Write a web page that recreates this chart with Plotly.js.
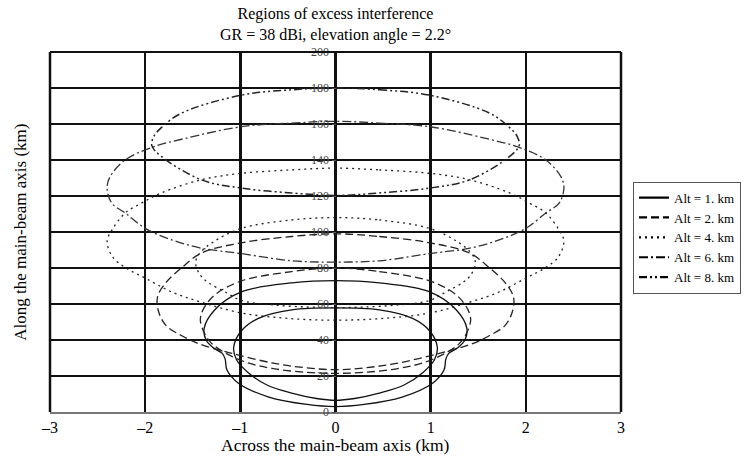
<!DOCTYPE html>
<html>
<head>
<meta charset="utf-8">
<script src="https://cdn.plot.ly/plotly-3.0.1.min.js"></script>
<style>html,body{margin:0;padding:0;background:#fff;}#chart{width:756px;height:461px;}</style>
</head>
<body>
<div id="chart"></div>
<script>
// Legend labels
const altLabels = ['Alt = 1. km', 'Alt = 2. km', 'Alt = 4. km', 'Alt = 6. km', 'Alt = 8. km'];
const xTicks = [-3, -2, -1, 0, 1, 2, 3];
const yTicks = [0, 20, 40, 60, 80, 100, 120, 140, 160, 180, 200];

// Contours (km across, km along)
const alt1OuterX = [0,0.46,0.99,1.27,1.38,1.36,1.28,1.19,1.16,1.14,1.02,0.70,0.30,0,-0.30,-0.70,-1.02,-1.14,-1.16,-1.19,-1.28,-1.36,-1.38,-1.27,-0.99,-0.46,0];
const alt1OuterY = [73,71.7,66.7,56.7,46.5,40,35.5,32.6,29.5,23.3,16,8.3,4.2,3,4.2,8.3,16,23.3,29.5,32.6,35.5,40,46.5,56.7,66.7,71.7,73];
const alt1InnerX = [0,0.46,0.81,0.99,1.07,1.04,0.92,0.72,0.46,0.20,0,-0.20,-0.46,-0.72,-0.92,-1.04,-1.07,-0.99,-0.81,-0.46,0];
const alt1InnerY = [57.8,56.7,52,45,36,29,22,15,10.5,7.5,6.5,7.5,10.5,15,22,29,36,45,52,56.7,57.8];

const alt2OuterX = [0,0.46,0.99,1.41,1.62,1.78,1.87,1.86,1.78,1.62,1.44,1.09,0.64,0.30,0,-0.30,-0.64,-1.09,-1.44,-1.62,-1.78,-1.86,-1.87,-1.78,-1.62,-1.41,-0.99,-0.46,0];
const alt2OuterY = [99,97.5,94,88.3,80,72,64,56,48,42.5,38,32.6,27,24.5,23.5,24.5,27,32.6,38,42.5,48,56,64,72,80,88.3,94,97.5,99];
const alt2InnerX = [0,0.46,0.99,1.27,1.39,1.42,1.37,1.30,1.12,0.90,0.64,0.30,0,-0.30,-0.64,-0.90,-1.12,-1.30,-1.37,-1.42,-1.39,-1.27,-0.99,-0.46,0];
const alt2InnerY = [80,78,72.8,65,57,51,43,38,31.7,27,24,22,21.5,22,24,27,31.7,38,43,51,57,65,72.8,78,80];

const alt4OuterX = [0,0.46,0.99,1.41,1.83,2.04,2.21,2.35,2.40,2.34,2.20,2.00,1.72,1.41,0.99,0.50,0,-0.50,-0.99,-1.41,-1.72,-2.00,-2.20,-2.34,-2.40,-2.35,-2.21,-2.04,-1.83,-1.41,-0.99,-0.46,0];
const alt4OuterY = [135.5,134.5,132.6,129,121.7,116,110.6,101,95,86,80,74.4,66.7,61,55,52,51,52,55,61,66.7,74.4,80,86,95,101,110.6,116,121.7,129,132.6,134.5,135.5];
const alt4InnerX = [0,0.46,0.99,1.28,1.43,1.47,1.42,1.34,1.16,0.99,0.64,0.28,0,-0.28,-0.64,-0.99,-1.16,-1.34,-1.42,-1.47,-1.43,-1.28,-0.99,-0.46,0];
const alt4InnerY = [108,106.7,102,94.6,88,82.8,76,72,66.7,62,59.4,58.3,58,58.3,59.4,62,66.7,72,76,82.8,88,94.6,102,106.7,108];

const alt6X = [0,0.46,0.99,1.58,1.93,2.21,2.37,2.40,2.35,2.21,2.00,1.72,1.41,0.99,0.46,0,-0.46,-0.99,-1.41,-1.72,-2.00,-2.21,-2.35,-2.40,-2.37,-2.21,-1.93,-1.58,-0.99,-0.46,0];
const alt6Y = [161.5,160.5,158.5,152,147,140,130.6,124.4,116,110.6,102,95.6,91,88,84,83.3,84,88,91,95.6,102,110.6,116,124.4,130.6,140,147,152,158.5,160.5,161.5];

const alt8X = [0,0.46,0.99,1.62,1.83,1.91,1.93,1.83,1.41,0.99,0.46,0,-0.46,-0.99,-1.41,-1.83,-1.93,-1.91,-1.83,-1.62,-0.99,-0.46,0];
const alt8Y = [180,179,176,166,158,153,148,142,129,124.4,121.7,120.3,121.7,124.4,129,142,148,153,158,166,176,179,180];

const dashes = ['solid', '8px,4px', '2px,4px', '9px,3px,2px,3px', '8px,3px,2px,3px,2px,3px'];
const curveColors = ['#111', '#222', '#222', '#333', '#222'];

const groups = [
  [[alt1OuterX, alt1OuterY], [alt1InnerX, alt1InnerY]],
  [[alt2OuterX, alt2OuterY], [alt2InnerX, alt2InnerY]],
  [[alt4OuterX, alt4OuterY], [alt4InnerX, alt4InnerY]],
  [[alt6X, alt6Y]],
  [[alt8X, alt8Y]]
];

const traces = [];
groups.forEach((g, i) => {
  g.forEach(c => {
    traces.push({
      type: 'scatter', mode: 'lines', x: c[0], y: c[1],
      line: {color: curveColors[i], width: i === 4 ? 1.5 : 1.3, dash: dashes[i], shape: 'spline', smoothing: 1},
      showlegend: false, hoverinfo: 'skip'
    });
  });
});
altLabels.forEach((lab, i) => {
  traces.push({
    type: 'scatter', mode: 'lines', x: [null], y: [null], name: lab,
    line: {color: '#000', width: 2.2, dash: dashes[i]}, showlegend: true
  });
});

const serif = 'Liberation Serif, Times New Roman, serif';
const layout = {
  width: 756, height: 461,
  margin: {l: 50, r: 135, t: 52, b: 49},
  paper_bgcolor: '#fff', plot_bgcolor: '#fff',
  font: {family: serif, color: '#000'},
  title: {
    text: 'Regions of excess interference<br>GR = 38 dBi, elevation angle = 2.2°',
    x: 0.5, xref: 'paper', xanchor: 'center',
    y: 0.958, yref: 'container', yanchor: 'top',
    font: {family: serif, size: 16, color: '#000'}
  },
  xaxis: {
    range: [-3, 3], tickvals: xTicks, ticktext: xTicks.map(v => v < 0 ? '\u2013' + Math.abs(v) : String(v)),
    showgrid: true, gridcolor: '#111', gridwidth: 2.5, zeroline: false,
    showline: true, linecolor: '#777', linewidth: 1.5, ticks: '', ticklabelstandoff: 0,
    tickfont: {family: serif, size: 16, color: '#000'},
    fixedrange: true
  },
  yaxis: {
    range: [0, 200], tickvals: yTicks, anchor: 'free', position: 0.5,
    showgrid: true, gridcolor: '#111', gridwidth: 2, zeroline: false,
    showline: false, ticks: 'outside', ticklen: 4, tickcolor: '#555', tickwidth: 1,
    tickfont: {family: serif, size: 12, color: '#444'},
    fixedrange: true
  },
  legend: {
    x: 1.021, xanchor: 'left', y: 0.64, yanchor: 'top',
    bgcolor: '#fff', bordercolor: '#555', borderwidth: 1,
    font: {family: serif, size: 13, color: '#000'},
    tracegroupgap: 0, itemwidth: 30
  },
  annotations: [
    {
      text: 'Along the main-beam axis (km)', xref: 'paper', yref: 'paper',
      x: -0.053, y: 0.5, xanchor: 'center', yanchor: 'middle', textangle: -90,
      showarrow: false, font: {family: serif, size: 17, color: '#000'}
    },
    {
      text: 'Across the main-beam axis (km)', xref: 'paper', yref: 'paper',
      x: 0.5, y: -0.093, xanchor: 'center', yanchor: 'middle',
      showarrow: false, font: {family: serif, size: 17.5, color: '#000'}
    }
  ],
  shapes: [
    {type: 'line', xref: 'paper', yref: 'paper', x0: 0, x1: 0, y0: 0, y1: 1, line: {color: '#111', width: 2.5}},
    {type: 'line', xref: 'paper', yref: 'paper', x0: 1, x1: 1, y0: 0, y1: 1, line: {color: '#111', width: 2.5}},
    {type: 'line', xref: 'paper', yref: 'paper', x0: 0, x1: 1, y0: 1, y1: 1, line: {color: '#111', width: 2}}
  ]
};

Plotly.newPlot('chart', traces, layout, {displayModeBar: false, staticPlot: true});
</script>
</body>
</html>
